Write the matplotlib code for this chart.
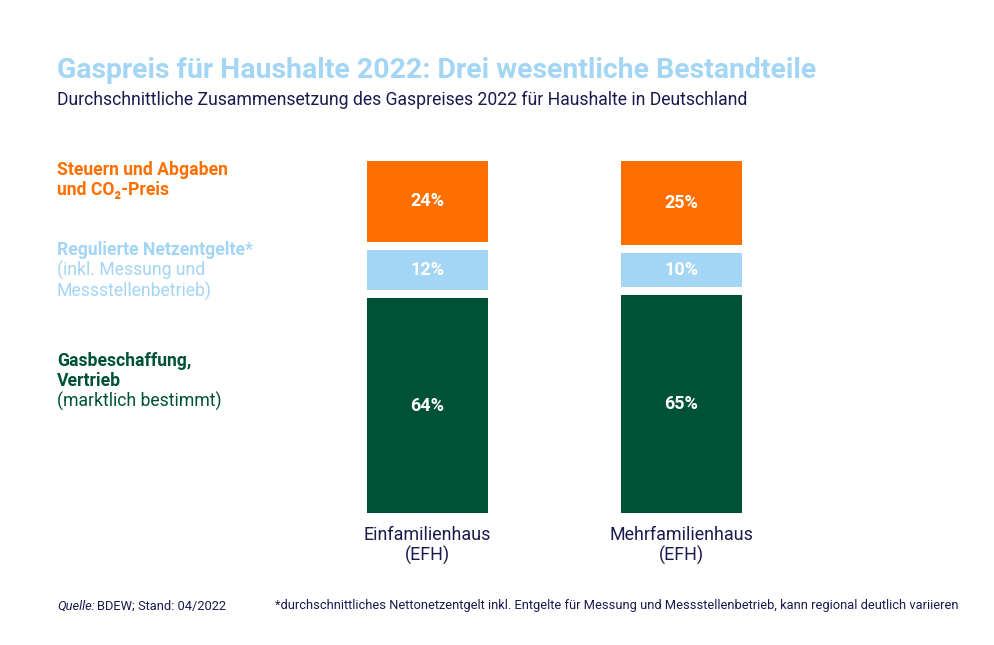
import matplotlib
matplotlib.use("Agg")
import matplotlib.pyplot as plt

plt.rcParams['font.family'] = ['Roboto', 'DejaVu Sans']

categories = ["Einfamilienhaus\n(EFH)", "Mehrfamilienhaus\n(EFH)"]
segments = ["Gasbeschaffung, Vertrieb", "Regulierte Netzentgelte", "Steuern und Abgaben und CO2-Preis"]
values = {
    "Gasbeschaffung, Vertrieb": [64, 65],
    "Regulierte Netzentgelte": [12, 10],
    "Steuern und Abgaben und CO2-Preis": [24, 25],
}
seg_labels = [
    ["Gasbeschaffung,", "Vertrieb", "(marktlich bestimmt)"],
    ["Regulierte Netzentgelte*", "(inkl. Messung und", "Messstellenbetrieb)"],
    ["Steuern und Abgaben", "und CO₂-Preis"],
]
colors = ["#005236", "#A3D5F5", "#FF6F00"]
navy = "#1A1A4E"

title = "Gaspreis für Haushalte 2022: Drei wesentliche Bestandteile"
subtitle = "Durchschnittliche Zusammensetzung des Gaspreises 2022 für Haushalte in Deutschland"
source = "BDEW; Stand: 04/2022"
footnote = "*durchschnittliches Nettonetzentgelt inkl. Entgelte für Messung und Messstellenbetrieb, kann regional deutlich variieren"

W, H = 995, 645
fig = plt.figure(figsize=(W / 100, H / 100), dpi=100)

# axes placement in pixels
ax_left, ax_right, ax_top, ax_bot = 300, 800, 161, 513
ax = fig.add_axes([ax_left / W, 1 - ax_bot / H, (ax_right - ax_left) / W, (ax_bot - ax_top) / H])
gap = 2.4
ax.set_ylim(0, 100 + 2 * gap)
step = 254.0
x0 = (ax_left - 427.5) / step
x1 = (ax_right - 427.5) / step
ax.set_xlim(x0, x1)
ax.axis("off")

bw = 121 / step
xs = list(range(len(categories)))
for i in range(len(categories)):
    bottom = 0.0
    for j, seg in enumerate(segments):
        v = values[seg][i]
        ax.bar(xs[i], v, bottom=bottom, width=bw, color=colors[j], linewidth=0)
        ax.text(xs[i], bottom + v / 2, f"{v}%", ha="center", va="center",
                color="white", fontsize=13, fontweight="bold")
        bottom += v + gap
    ax.text(xs[i], -4.0, categories[i], ha="center", va="top", color=navy,
            fontsize=12.9, linespacing=1.1)

def ptext(x, y, s, **kw):
    fig.text(x / W, 1 - y / H, s, **kw)

ptext(57, 71, title, fontsize=20.4, fontweight="bold", color="#A3D5F5", va="center")
ptext(57, 100, subtitle, fontsize=12.7, color=navy, va="center")

label_y = [[361, 381, 401], [250, 270, 291], [170, 190]]
for j in range(len(segments)):
    for k, line in enumerate(seg_labels[j]):
        if j == 0:
            bold = k < 2
        elif j == 1:
            bold = k == 0
        else:
            bold = True
        ptext(57, label_y[j][k], line, fontsize=12.7, color=colors[j],
              fontweight="bold" if bold else "normal", va="center")

ptext(57, 606, "Quelle:", fontsize=9.25, style="italic", color=navy, va="center")
ptext(97, 606, source, fontsize=9.25, color=navy, va="center")
ptext(275, 606, footnote, fontsize=9.25, color=navy, va="center")

fig.savefig("out.png", dpi=100, facecolor="white")
